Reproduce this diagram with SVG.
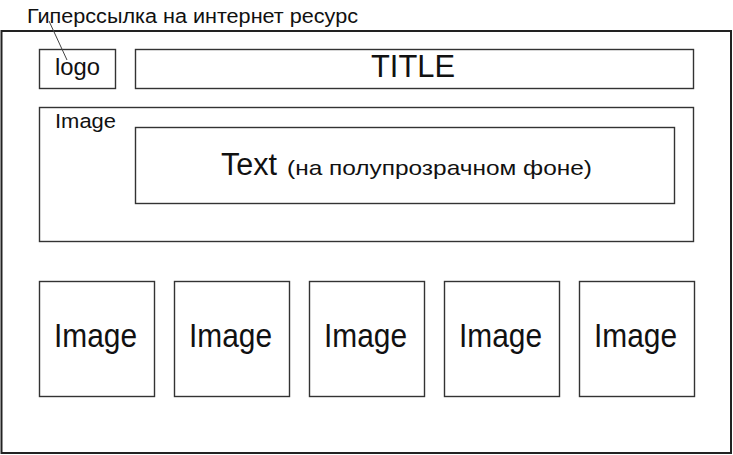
<svg xmlns="http://www.w3.org/2000/svg" width="733" height="455" viewBox="0 0 733 455">
  <style>
    .box { fill: #fff; stroke: #333; stroke-width: 1.4; }
    .frame { fill: #fff; stroke: #222; stroke-width: 2; }
    .t { font-family: "Liberation Sans", Arial, sans-serif; fill: #111; }
    .big { font-size: 33px; text-anchor: middle; }
    .lead { stroke: #444; stroke-width: 1; fill: none; }
  </style>
  <rect width="733" height="455" fill="#fff"/>

  <g id="page">
    <rect class="frame" x="1.5" y="31" width="729.5" height="422"/>
  </g>

  <g id="logo">
    <rect class="box" x="39.5" y="49.5" width="76" height="39"/>
    <text class="t" x="77.5" y="75" font-size="24" text-anchor="middle" textLength="45" lengthAdjust="spacingAndGlyphs">logo</text>
  </g>

  <g id="title">
    <rect class="box" x="135.5" y="49.5" width="558" height="39"/>
    <text class="t" x="413" y="77" font-size="32" text-anchor="middle" textLength="84" lengthAdjust="spacingAndGlyphs">TITLE</text>
  </g>

  <g id="hero">
    <rect class="box" x="39.5" y="107.5" width="654" height="134"/>
    <text class="t" x="55" y="127.5" font-size="20.5" textLength="61" lengthAdjust="spacingAndGlyphs">Image</text>
  </g>

  <g id="hero-text">
    <rect class="box" x="135.5" y="127.5" width="539" height="76"/>
    <text class="t" x="221" y="175" font-size="31" textLength="56" lengthAdjust="spacingAndGlyphs">Text</text>
    <text class="t" x="287" y="175" font-size="21" textLength="305" lengthAdjust="spacingAndGlyphs">(на полупрозрачном фоне)</text>
  </g>

  <g id="image-1">
    <rect class="box" x="39.5" y="281.5" width="115" height="115"/>
    <text class="t big" x="95.5" y="347" textLength="83" lengthAdjust="spacingAndGlyphs">Image</text>
  </g>
  <g id="image-2">
    <rect class="box" x="174.5" y="281.5" width="115" height="115"/>
    <text class="t big" x="230.5" y="347" textLength="83" lengthAdjust="spacingAndGlyphs">Image</text>
  </g>
  <g id="image-3">
    <rect class="box" x="309.5" y="281.5" width="115" height="115"/>
    <text class="t big" x="365.5" y="347" textLength="83" lengthAdjust="spacingAndGlyphs">Image</text>
  </g>
  <g id="image-4">
    <rect class="box" x="444.5" y="281.5" width="115" height="115"/>
    <text class="t big" x="500.5" y="347" textLength="83" lengthAdjust="spacingAndGlyphs">Image</text>
  </g>
  <g id="image-5">
    <rect class="box" x="579.5" y="281.5" width="115" height="115"/>
    <text class="t big" x="635.5" y="347" textLength="83" lengthAdjust="spacingAndGlyphs">Image</text>
  </g>

  <g id="link-note">
    <text class="t" x="27" y="23" font-size="19.5" textLength="331" lengthAdjust="spacingAndGlyphs">Гиперссылка на интернет ресурс</text>
  </g>

  <g id="connectors">
    <line class="lead" x1="49" y1="21" x2="67" y2="60"/>
  </g>
</svg>
